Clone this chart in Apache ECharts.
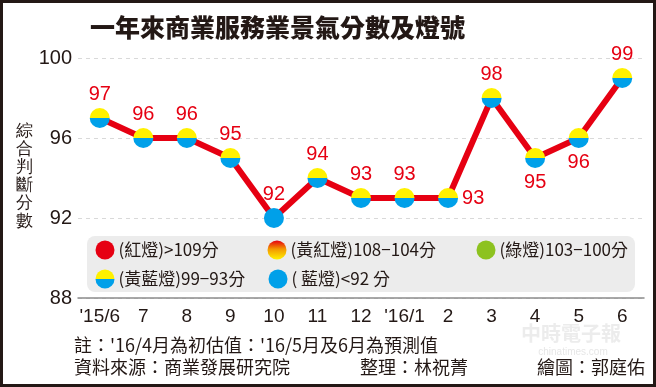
<!DOCTYPE html>
<html><head><meta charset="utf-8">
<script src="https://cdn.jsdelivr.net/npm/echarts@6/dist/echarts.min.js"></script>
<style>html,body{margin:0;padding:0;background:#fff}#c{width:656px;height:387px}</style>
</head><body><div id="c"></div>
<script>
const categories = ["'15/6","7","8","9","10","11","12","'16/1","2","3","4","5","6"];
const scores = [97,96,96,95,92,94,93,93,93,98,95,96,99];
// light signal per month: 'yb' = 黃藍燈, 'b' = 藍燈
const lights = ['yb','yb','yb','yb','b','yb','yb','yb','yb','yb','yb','yb','yb'];
// label placement per month
const labelPos = ['top','top','top','top','top','top','top','top','right','top','bottom','bottom','top'];
const yTicks = [88,92,96,100];
const legendNames = ['(紅燈)>109分','(黃紅燈)108−104分','(綠燈)103−100分','(黃藍燈)99−93分','( 藍燈)<92 分'];

const RED='#e60012', YEL='#fff100', BLUE='#00a0e9', GREEN='#8dc21f', TXT='#231815';
const FONT='"Liberation Sans", Arial, sans-serif';
const CJK='"Noto Sans CJK TC", "Liberation Sans", sans-serif';
const G = echarts.graphic.LinearGradient;
const halfYB = () => new G(0,0,0,1,[{offset:0,color:YEL},{offset:0.5,color:YEL},{offset:0.5,color:BLUE},{offset:1,color:BLUE}]);
const redYel = () => new G(0,0,0,1,[{offset:0,color:RED},{offset:0.45,color:'#f39800'},{offset:1,color:YEL}]);
const legendColors = [RED, redYel(), GREEN, halfYB(), BLUE];
const legendPos = [[95.5,240.5],[267.5,240.5],[476.5,240.5],[95.5,269.5],[268.5,269.5]];

const chart = echarts.init(document.getElementById('c'));
const mainData = scores.map((v,i)=>({
  value:v,
  itemStyle:{color: lights[i]==='b' ? BLUE : halfYB()},
  label:{position: labelPos[i]}
}));

const legends = legendNames.map((n,i)=>({
  data:[{name:n, icon:'circle'}], left:legendPos[i][0], top:legendPos[i][1], padding:0,
  itemWidth:19, itemHeight:19, selectedMode:false,
  itemStyle:{opacity:1, borderWidth:0},
  textStyle:{fontSize:17, color:TXT, fontFamily:CJK, padding:[0,0,0,-1]}
}));
const dummySeries = legendNames.map((n,i)=>({
  name:n, type:'scatter', data:[], itemStyle:{color:legendColors[i], opacity:1}
}));

chart.setOption({
  animation:false,
  title:{text:'一年來商業服務業景氣分數及燈號', left:85, top:10,
    textStyle:{fontSize:25, fontWeight:900, color:TXT, fontFamily:CJK}},
  grid:{left:78, top:58, width:566, height:240},
  legend: legends,
  xAxis:{type:'category', data:categories, boundaryGap:true,
    axisLine:{lineStyle:{color:'#8c8c8c', width:1.5}},
    axisTick:{alignWithLabel:true, interval:0, length:4, lineStyle:{color:'#8c8c8c', width:1.5}},
    axisLabel:{interval:0, fontSize:19, color:TXT, fontFamily:FONT, margin:9}},
  yAxis:{type:'value', min:yTicks[0], max:yTicks[yTicks.length-1], interval:4,
    axisLine:{show:false}, axisTick:{show:false},
    axisLabel:{fontSize:20, color:TXT, fontFamily:FONT, margin:6},
    splitLine:{lineStyle:{color:'#d9d9d9', type:[4,4], width:1}}},
  graphic:[
    {type:'rect', z:-10, shape:{x:1.5,y:1.5,width:653,height:384}, style:{fill:'#fff', stroke:TXT, lineWidth:3}},
    {type:'rect', z:-5, shape:{x:87,y:236,width:548,height:56,r:8}, style:{fill:'#ececec'}},
    {type:'text', left:16, top:122, style:{text:'綜\n合\n判\n斷\n分\n數', fontSize:17, lineHeight:18, fill:TXT, font:'17px '+CJK}},
    {type:'text', x:74, y:345, style:{text:"註：'16/4月為初估值：'16/5月及6月為預測值", fill:TXT, font:'18px '+CJK, verticalAlign:'middle'}},
    {type:'text', x:74, y:367, style:{text:'資料來源：商業發展研究院', fill:TXT, font:'18px '+CJK, verticalAlign:'middle'}},
    {type:'text', x:360, y:367, style:{text:'整理：林祝菁', fill:TXT, font:'18px '+CJK, verticalAlign:'middle'}},
    {type:'text', x:645, y:367, style:{text:'繪圖：郭庭佑', fill:TXT, font:'18px '+CJK, verticalAlign:'middle', align:'right'}},
    {type:'text', x:571, y:333, z:-6, style:{text:'中時電子報', fill:'rgba(200,200,200,0.35)', font:'bold 20px '+CJK, verticalAlign:'middle', align:'center'}},
    {type:'text', x:573, y:352, z:-6, style:{text:'chinatimes.com', fill:'rgba(200,200,200,0.45)', font:'10px '+FONT, verticalAlign:'middle', align:'center'}}
  ],
  series:[{
    name:'分數', type:'line', data:mainData, symbol:'circle', symbolSize:20,
    lineStyle:{color:RED, width:6}, z:5,
    label:{show:true, fontSize:20, color:RED, fontFamily:FONT, distance:4}
  }].concat(dummySeries)
});
</script></body></html>
